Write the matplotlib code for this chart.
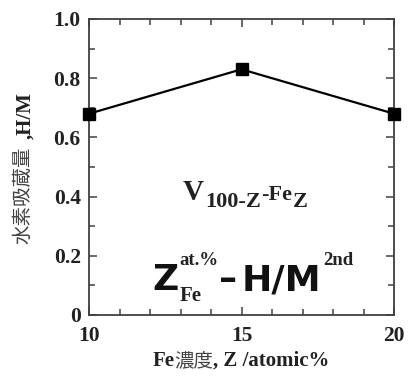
import matplotlib
matplotlib.use('Agg')
import matplotlib.pyplot as plt
from matplotlib.ticker import MultipleLocator, FixedLocator
from matplotlib.transforms import Affine2D

# Data
fe_conc = [10, 15, 20]
hm_ratio = [0.68, 0.83, 0.68]
x_ticks = [10, 15, 20]
y_ticks = [0, 0.2, 0.4, 0.6, 0.8, 1.0]
y_ticklabels = ['0', '0.2', '0.4', '0.6', '0.8', '1.0']

W, H = 409, 377
SERIF = 'Liberation Serif'
CJK = 'Noto Sans CJK JP'
GRAY = '#404040'

fig = plt.figure(figsize=(W / 100, H / 100), dpi=100)
ax = fig.add_axes([89 / W, 1 - 315 / H, 305 / W, 296 / H])

# Line with square markers
ax.plot(fe_conc, hm_ratio, color='black', lw=1.6, marker='s', ms=8,
        clip_on=False, zorder=5)

ax.set_xlim(10, 20)
ax.set_ylim(0, 1.0)
ax.xaxis.set_major_locator(FixedLocator(x_ticks))
ax.xaxis.set_minor_locator(MultipleLocator(1))
ax.yaxis.set_major_locator(FixedLocator(y_ticks))
ax.yaxis.set_minor_locator(MultipleLocator(0.1))
ax.set_yticklabels(y_ticklabels)

for s in ax.spines.values():
    s.set_color(GRAY)
    s.set_linewidth(1.3)
ax.tick_params(which='both', direction='in', top=True, right=True,
               color=GRAY, width=1.1)
ax.tick_params(which='major', length=6)
ax.tick_params(which='minor', length=4)
ax.tick_params(axis='x', which='major', pad=8)
ax.tick_params(axis='y', which='major', pad=6)
for lab in ax.get_xticklabels() + ax.get_yticklabels():
    lab.set_fontfamily(SERIF)
    lab.set_fontweight('bold')
    lab.set_fontsize(15.5)
    lab.set_color('#222222')

# pixel-coordinate transform (origin top-left)
pix = Affine2D().scale(1 / W, -1 / H).translate(0, 1) + fig.transFigure
renderer = fig.canvas.get_renderer()


def put(x, y, s, **kw):
    t = fig.text(x, y, s, transform=pix, ha='left', va='baseline', **kw)
    bb = t.get_window_extent(renderer)
    return x + bb.width


def serif_bold(size):
    return dict(family=SERIF, weight='bold', fontsize=size, color='#222222')


# x label: "Fe濃度, Z /atomic%"
pieces = [('Fe', serif_bold(15)),
          ('濃度', dict(family=CJK, fontsize=14, color='#444444')),
          (', Z /atomic%', serif_bold(15))]
widths = []
for s, kw in pieces:
    t = fig.text(0, 0, s, **kw)
    widths.append(t.get_window_extent(renderer).width)
    t.remove()
x = 241 - sum(widths) / 2
for s, kw in pieces:
    x = put(x, 366, s, **kw)

# y label: "水素吸蔵量,H/M"
fig.text(23, 195, '水素吸蔵量', transform=pix, rotation=90, ha='center',
         va='center', family=CJK, fontsize=14, color='#444444')
fig.text(25, 116, ',H/M', transform=pix, rotation=90, ha='center',
         va='center', **serif_bold(15))

# annotation: V100-Z-FeZ
x = put(183, 200, 'V', **serif_bold(21))
x = put(x + 1, 207, '100\u2010Z', **serif_bold(16))
x = put(x, 200, '\u2010Fe', **serif_bold(16))
put(x + 1, 207, 'Z', **serif_bold(16))

# annotation: Z_Fe^at.% - H/M^2nd
big = dict(family='DejaVu Sans', weight='bold', fontsize=26, color='#111111')
x = put(152, 290, 'Z', **big)
x_sup = put(x + 1, 265, 'at.%', **serif_bold(13.5))
put(x + 1, 301, 'Fe', **serif_bold(15))
put(x_sup + 1, 290, '\u2013', **big)
x = put(242, 290, 'H/M', **big)
put(x + 2, 265, '2nd', **serif_bold(13.5))

fig.savefig('out.png', dpi=100)
